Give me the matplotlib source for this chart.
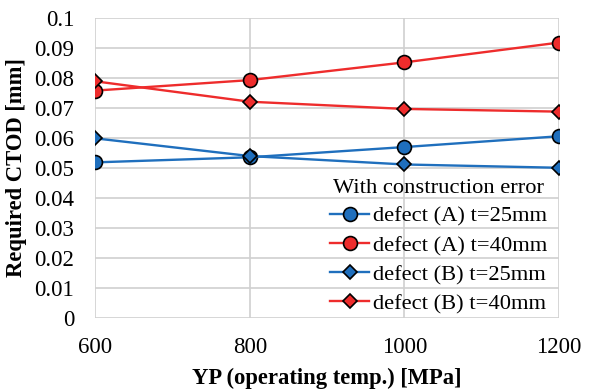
import matplotlib.pyplot as plt

plt.rcParams['font.family'] = ['Liberation Serif', 'DejaVu Serif']

# data
yp = [600, 800, 1000, 1200]
a_25 = [0.0518, 0.0535, 0.0569, 0.0605]
a_40 = [0.0757, 0.0792, 0.0851, 0.0917]
b_25 = [0.0598, 0.0539, 0.0511, 0.0500]
b_40 = [0.0788, 0.0720, 0.0696, 0.0687]
labels = ['defect (A) t=25mm', 'defect (A) t=40mm',
          'defect (B) t=25mm', 'defect (B) t=40mm']

blue = '#1f6fbd'
red = '#ee2c2c'

fig = plt.figure(figsize=(5.91, 3.92), dpi=100)
ax = fig.add_axes([0.161, 0.189, 0.785, 0.766])

ax.plot(yp, a_25, '-o', color=blue, lw=1.7, ms=10, mec='black', mew=1.2, label=labels[0])
ax.plot(yp, a_40, '-o', color=red, lw=1.7, ms=10, mec='black', mew=1.2, label=labels[1])
ax.plot(yp, b_25, '-D', color=blue, lw=1.7, ms=7.5, mec='black', mew=1.2, label=labels[2])
ax.plot(yp, b_40, '-D', color=red, lw=1.7, ms=7.5, mec='black', mew=1.2, label=labels[3])

ax.set_xlim(600, 1200)
ax.set_ylim(0, 0.1)
ax.set_xticks(yp)
ax.set_yticks([i / 100 for i in range(11)])
ax.set_yticklabels(['0'] + ['%.2f' % (i / 100) for i in range(1, 10)] + ['0.1'])
ax.grid(True, color='#d0d0d0', lw=1.2)
ax.set_axisbelow(True)
for s in ax.spines.values():
    s.set_visible(False)
ax.tick_params(length=0, labelsize=16.5)
ax.tick_params(axis='y', pad=15)
ax.tick_params(axis='x', pad=14)

ax.set_xlabel('YP (operating temp.) [MPa]', fontsize=16.3, fontweight='bold', labelpad=7)
ax.set_ylabel('Required CTOD [mm]', fontsize=16.3, fontweight='bold', labelpad=5)

leg = ax.legend(title='With construction error', loc='lower right', bbox_to_anchor=(0.998, -0.025),
                fontsize=16.2, title_fontsize=16.2, frameon=False, labelspacing=0.37,
                handlelength=1.75, handletextpad=0.15, borderaxespad=0.1)

fig.savefig('out.png', dpi=100)
